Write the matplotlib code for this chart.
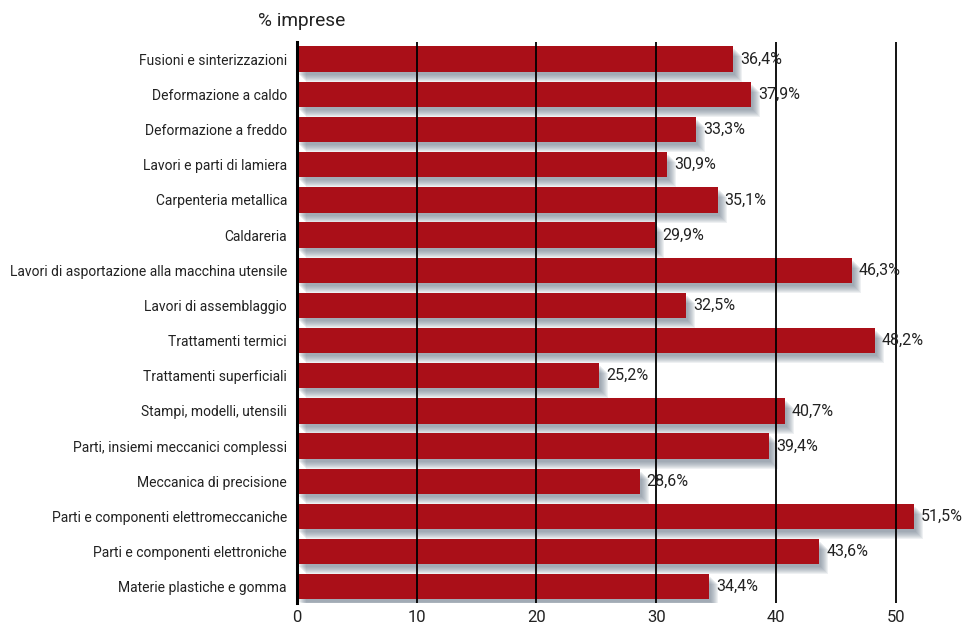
import matplotlib
matplotlib.use("Agg")
import matplotlib.pyplot as plt
import matplotlib.transforms as mtransforms

categories = [
    "Fusioni e sinterizzazioni",
    "Deformazione a caldo",
    "Deformazione a freddo",
    "Lavori e parti di lamiera",
    "Carpenteria metallica",
    "Caldareria",
    "Lavori di asportazione alla macchina utensile",
    "Lavori di assemblaggio",
    "Trattamenti termici",
    "Trattamenti superficiali",
    "Stampi, modelli, utensili",
    "Parti, insiemi meccanici complessi",
    "Meccanica di precisione",
    "Parti e componenti elettromeccaniche",
    "Parti e componenti elettroniche",
    "Materie plastiche e gomma",
]
values = [36.4, 37.9, 33.3, 30.9, 35.1, 29.9, 46.3, 32.5, 48.2, 25.2,
          40.7, 39.4, 28.6, 51.5, 43.6, 34.4]
xticks = [0, 10, 20, 30, 40, 50]

plt.rcParams["font.family"] = ["Roboto", "DejaVu Sans"]

fig = plt.figure(figsize=(9.67, 6.30), dpi=100)
ax = fig.add_axes([0.3068, 0.0429, 0.682, 0.890])

y = list(range(len(categories)))
bar_h = 0.72

# blurred drop shadow layers
for dx, dy in [(2, 3), (3, 4), (4, 5), (5, 6), (6, 7), (7, 8), (8, 9), (9, 10)]:
    tr = ax.transData + mtransforms.ScaledTranslation(dx / 100, -dy / 100, fig.dpi_scale_trans)
    ax.barh(y, values, height=bar_h, color="#6a7a8a", alpha=0.11,
            transform=tr, zorder=1, linewidth=0)

ax.barh(y, values, height=bar_h, color="#AA0F18", zorder=2, linewidth=0)

for yi, v in zip(y, values):
    ax.annotate(f"{v:.1f}%".replace(".", ","), xy=(v, yi), xytext=(5, 0),
                textcoords="offset points", va="center", ha="left",
                fontsize=11.5, color="#222222", zorder=4)

for xt in xticks[1:]:
    ax.axvline(xt, color="black", linewidth=1.3, zorder=3)

ax.set_xlim(0, 55)
ax.set_ylim(15.46, -0.48)
ax.set_yticks(y)
ax.set_yticklabels(categories, fontsize=10, color="#222222")
ax.set_xticks(xticks)
ax.set_xticklabels([str(t) for t in xticks], fontsize=12, color="#222222")
ax.tick_params(axis="both", length=0)
ax.tick_params(axis="y", pad=7)
ax.tick_params(axis="x", pad=5)

for s in ["top", "right", "bottom"]:
    ax.spines[s].set_visible(False)
ax.spines["left"].set_linewidth(2.2)
ax.spines["left"].set_color("black")
ax.spines["left"].set_zorder(5)

fig.text(258 / 967, 1 - 21 / 630, "% imprese", fontsize=13.8, color="#222222",
         ha="left", va="center")

fig.savefig("out.png", dpi=100)
